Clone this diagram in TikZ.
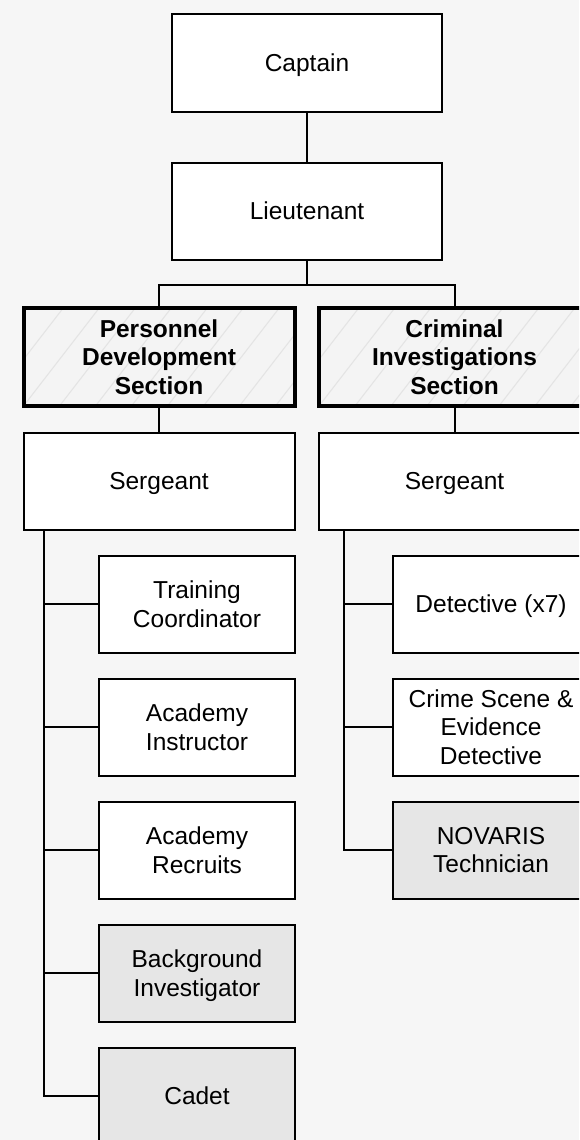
\documentclass[tikz,border=0pt]{standalone}
\usepackage{fontspec}
\setmainfont{Liberation Sans}
\usetikzlibrary{calc}
\definecolor{bgc}{HTML}{F6F6F6}
\definecolor{grayfill}{HTML}{E6E6E6}
\definecolor{hatchc}{HTML}{E4E4E4}
\definecolor{secfill}{HTML}{F4F4F4}
\begin{document}
\begin{tikzpicture}[x=1pt,y=-1pt,
  box/.style={draw=black,line width=2pt,fill=white,minimum width=270pt,minimum height=97pt,
    align=center,inner sep=0pt,text depth=0pt,font=\fontsize{24.5}{28.5}\selectfont},
  sub/.style={box,minimum width=196pt,minimum height=97pt},
  graybox/.style={sub,fill=grayfill},
  hatchline/.style={draw=hatchc,line width=1.1pt},
  section/.style={box,line width=4pt,minimum width=271pt,minimum height=98pt,fill=secfill,
    font=\fontsize{24.5}{28.5}\selectfont\bfseries,
    path picture={\foreach \k in {-6,...,10}{\draw[hatchline] ($(path picture bounding box.south west)+(\k*36,0)$) -- ++(85,-110);}}},
  conn/.style={draw=black,line width=2pt}]
\useasboundingbox (0,0) rectangle (579,1140);
\clip (0,0) rectangle (579,1140);
\fill[bgc] (0,0) rectangle (579,1140);

\node[box] (cap) at (307,63) {Captain};
\node[box] (lt) at (307,211) {Lieutenant};

\node[section] (pds) at (159,357) {Personnel\\Development\\Section};
\node[section] (cis) at (454.5,357) {Criminal\\Investigations\\Section};

\node[box,minimum width=271pt] (sgL) at (159,481) {Sergeant};
\node[box,minimum width=271pt] (sgR) at (454.5,481) {Sergeant};

\node[sub] (tc) at (197,604) {Training\\Coordinator};
\node[sub] (ai) at (197,727) {Academy\\Instructor};
\node[sub] (ar) at (197,850) {Academy\\Recruits};
\node[graybox] (bi) at (197,973) {Background\\Investigator};
\node[graybox] (cd) at (197,1096) {Cadet};

\node[sub] (det) at (491,604) {Detective (x7)};
\node[sub] (cse) at (491,727) {Crime Scene \&\\Evidence\\Detective};
\node[graybox] (nov) at (491,850) {NOVARIS\\Technician};

\coordinate (trunkL) at (44,530);
\coordinate (trunkR) at (344,530);

\draw[conn] (cap) -- (lt);
\draw[conn] (lt.south) -- ++(0,24) -| (pds.north);
\draw[conn] (lt.south) -- ++(0,24) -| (cis.north);
\draw[conn] (pds.south) -- (sgL.north);
\draw[conn] (cis.south) -- (sgR.north);

\draw[conn] (trunkL) |- (cd.west);
\foreach \n in {tc,ai,ar,bi}{\draw[conn] (trunkL |- \n.west) -- (\n.west);}
\draw[conn] (trunkR) |- (nov.west);
\foreach \n in {det,cse}{\draw[conn] (trunkR |- \n.west) -- (\n.west);}
\end{tikzpicture}
\end{document}
